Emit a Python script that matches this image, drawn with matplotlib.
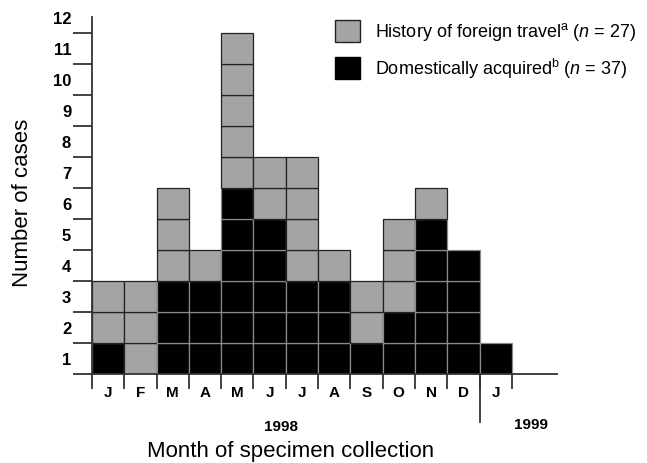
import matplotlib.pyplot as plt
from matplotlib.patches import Rectangle

plt.rcParams['font.family'] = ['Liberation Sans', 'DejaVu Sans']
plt.rcParams['mathtext.fontset'] = 'custom'
plt.rcParams['mathtext.rm'] = 'Liberation Sans'
plt.rcParams['mathtext.it'] = 'Liberation Sans:italic'

months = ['J', 'F', 'M', 'A', 'M', 'J', 'J', 'A', 'S', 'O', 'N', 'D', 'J']
domestic = [1, 0, 3, 3, 6, 5, 3, 3, 1, 2, 5, 4, 1]
foreign = [2, 3, 3, 1, 5, 2, 4, 1, 2, 3, 1, 0, 0]
ytick_labels = [str(k) for k in range(1, 13)]

fig = plt.figure(figsize=(6.47, 4.64), dpi=100)
ax = fig.add_axes([92 / 647, 89 / 464, 465 / 647, 357 / 464])

gray = '#a4a4a4'
# one box per case, stacked: domestic first, then foreign travel
for i in range(len(months)):
    for k in range(domestic[i]):
        ax.bar(i, 1, width=1, bottom=k, align='edge', color='black',
               edgecolor='#8a8a8a', linewidth=0.9)
    for k in range(foreign[i]):
        ax.bar(i, 1, width=1, bottom=domestic[i] + k, align='edge', color=gray,
               edgecolor='#222222', linewidth=0.9)

ax.set_xlim(0, 14.4)
ax.set_ylim(0, 11.5)
for s in ['top', 'right']:
    ax.spines[s].set_visible(False)
ax.spines['left'].set_linewidth(1.3)
ax.spines['bottom'].set_linewidth(1.3)
ax.spines['left'].set_color('#333333')
ax.spines['bottom'].set_color('#333333')

# ticks on the box boundaries, labels in the middle
ax.set_yticks(range(0, 12))
ax.set_yticklabels([])
ax.set_yticks([k - 0.5 for k in range(1, 13)], minor=True)
ax.set_yticklabels(ytick_labels, minor=True, fontsize=12, fontweight='bold')
ax.tick_params(axis='y', which='major', length=14, width=1.3, color='#333333')
ax.tick_params(axis='y', which='minor', length=0, pad=15)

ax.set_xticks(range(0, 14))
ax.set_xticklabels([])
ax.tick_params(axis='x', which='major', length=11, width=1.3, color='#333333')
for i, m in enumerate(months):
    ax.text(i + 0.5, -0.58, m, ha='center', va='center', fontsize=11,
            fontweight='bold')
ax.plot([12, 12], [0, -1.55], color='#333333', lw=1.3, clip_on=False)

ax.text(5.85, -1.66, '1998', ha='center', va='center', fontsize=11, fontweight='bold')
ax.text(13.6, -1.62, '1999', ha='center', va='center', fontsize=11, fontweight='bold')
ax.text(6.15, -2.45, 'Month of specimen collection', ha='center', va='center',
        fontsize=16)
ax.text(-2.14, 5.55, 'Number of cases', ha='center', va='center', rotation=90,
        fontsize=16)

# legend drawn by hand
W, H = 647, 464
fig.add_artist(Rectangle((335 / W, 1 - 43 / H), 25 / W, 22 / H, facecolor=gray,
                         edgecolor='#222222', lw=1, transform=fig.transFigure))
fig.add_artist(Rectangle((335 / W, 1 - 80 / H), 25 / W, 22 / H, facecolor='black',
                         edgecolor='black', lw=1, transform=fig.transFigure))
fig.text(375 / W, 1 - 32 / H, r'History of foreign travel$^{\mathrm{a}}$ ($\mathit{n}$ = 27)',
         ha='left', va='center', fontsize=13)
fig.text(375 / W, 1 - 69 / H, r'Domestically acquired$^{\mathrm{b}}$ ($\mathit{n}$ = 37)',
         ha='left', va='center', fontsize=13)

fig.savefig('out.png', dpi=100)
